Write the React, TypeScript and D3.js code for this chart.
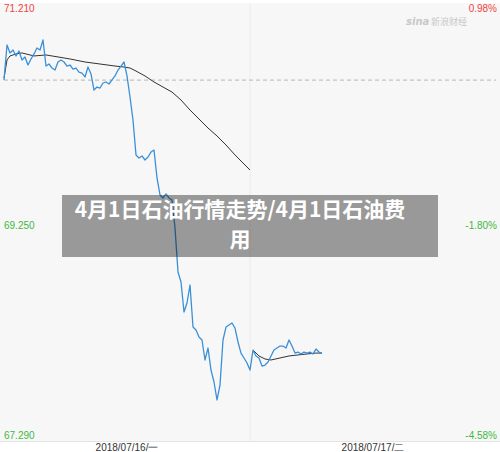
import React from 'react'
import * as d3 from 'd3'

// intraday prices, one sample per slot (slot 0..82 = day 1, 82..164 = day 2)
const priceValues = [
  70.521, 70.834, 70.763, 70.789, 70.736, 70.78, 70.7, 70.727, 70.655, 70.709,
  70.754, 70.807, 70.789, 70.879, 70.646, 70.664, 70.628, 70.61, 70.682, 70.7,
  70.682, 70.646, 70.655, 70.619, 70.628, 70.592, 70.583, 70.548, 70.637, 70.575,
  70.431, 70.458, 70.449, 70.494, 70.503, 70.485, 70.521, 70.557, 70.61, 70.646,
  70.682, 70.557, 70.369, 70.163, 69.85, 69.823, 69.841, 69.805, 69.832, 69.876,
  69.894, 69.644, 69.492, 69.465, 69.501, 69.465, 69.447, 69.196, 68.802, 68.713,
  68.444, 68.525, 68.686, 68.31, 68.283, 68.221, 68.194, 68.015, 68.122, 67.925,
  67.818, 67.657, 67.791, 68.194, 68.31, 68.328, 68.346, 68.301, 68.176, 68.077,
  68.033, 67.988, 67.925,
  68.104, 68.051, 68.033, 67.961, 67.97, 67.997, 68.051, 68.104, 68.122, 68.14,
  68.14, 68.122, 68.194, 68.14, 68.077, 68.086, 68.069, 68.086, 68.077, 68.086,
  68.069, 68.113, 68.086, 68.077,
]

// average price line, per trading day
const avgDay1Slots = [0, 1, 2, 4, 6, 10, 14, 18, 22, 27, 32, 37, 40, 42, 44, 47, 50, 53, 56, 59, 62, 65, 68, 71, 74, 77, 80, 82]
const avgDay1Values = [
  70.539, 70.7, 70.736, 70.754, 70.763, 70.736, 70.745, 70.727, 70.709, 70.682,
  70.664, 70.646, 70.637, 70.628, 70.601, 70.557, 70.503, 70.458, 70.413, 70.342,
  70.252, 70.172, 70.091, 70.02, 69.939, 69.85, 69.769, 69.715,
]
const avgDay2Slots = [83, 85, 87, 89, 92, 95, 98, 101, 104, 106]
const avgDay2Values = [68.104, 68.051, 68.024, 68.015, 68.033, 68.051, 68.06, 68.069, 68.077, 68.077]

const slotsPerDay = 82
const prevClose = 70.52
const yMax = 71.21
const yMin = 67.29
const dayLabels = ['2018/07/16/一', '2018/07/17/二']
const titleLines = ['4月1日石油行情走势/4月1日石油费', '用']

const W = 500
const H = 452
const plot = { left: 4, right: 496, top: 3, bottom: 441 }

const red = '#f0433f'
const green = '#3fb83f'

export default function App() {
  const xs = d3.scaleLinear().domain([0, slotsPerDay * 2]).range([plot.left, plot.right])
  const y = d3.scaleLinear().domain([yMin, yMax]).range([plot.bottom, plot.top])

  const line = d3
    .line<[number, number]>()
    .x((d) => xs(d[0]))
    .y((d) => y(d[1]))

  const pricePts = priceValues.map((v, i) => [i, v] as [number, number])
  const avg1 = avgDay1Slots.map((s, i) => [s, avgDay1Values[i]] as [number, number])
  const avg2 = avgDay2Slots.map((s, i) => [s, avgDay2Values[i]] as [number, number])

  const pct = (v: number) => ((v / prevClose - 1) * 100).toFixed(2) + '%'
  const mid = (yMax + yMin) / 2
  const labelFont = 'Arial, "Liberation Sans", sans-serif'

  return (
    <svg
      width={W}
      height={H}
      style={{ position: 'absolute', left: 0, top: 0, background: '#fff' }}
      fontFamily={labelFont}
    >
      <rect x={0} y={plot.top} width={W} height={plot.bottom - plot.top} fill="#f7f7f7" />
      <line x1={0} x2={W} y1={plot.bottom + 0.5} y2={plot.bottom + 0.5} stroke="#e4e4e4" />
      <line
        x1={xs(slotsPerDay)}
        x2={xs(slotsPerDay)}
        y1={plot.top}
        y2={plot.bottom}
        stroke="#ececec"
      />
      <line
        x1={plot.left}
        x2={plot.right}
        y1={y(prevClose)}
        y2={y(prevClose)}
        stroke="#b5b5b5"
        strokeDasharray="4,3"
      />

      {/* watermark */}
      <g fill="#c8c8c8">
        <text x={406} y={25} fontSize={10} fontStyle="italic" fontWeight="bold" fontFamily="DejaVu Sans">
          sina
        </text>
        <text x={431} y={25} fontSize={9} fontFamily='"Noto Sans CJK SC"'>
          新浪财经
        </text>
      </g>

      <path d={line(avg1) || ''} fill="none" stroke="#333" strokeWidth={1} />
      <path d={line(avg2) || ''} fill="none" stroke="#333" strokeWidth={1} />
      <path
        d={line(pricePts) || ''}
        fill="none"
        stroke="#3a90d8"
        strokeWidth={1.3}
        strokeLinejoin="round"
      />

      {/* axis labels */}
      <g fontSize={10}>
        <text x={plot.left} y={12} fill={red}>{yMax.toFixed(3)}</text>
        <text x={plot.right + 1} y={12} fill={red} textAnchor="end">{pct(yMax)}</text>
        <text x={plot.left} y={229} fill={green}>{mid.toFixed(3)}</text>
        <text x={plot.right + 1} y={229} fill={green} textAnchor="end">{pct(mid)}</text>
        <text x={plot.left} y={439} fill={green}>{yMin.toFixed(3)}</text>
        <text x={plot.right + 1} y={439} fill={green} textAnchor="end">{pct(yMin)}</text>
      </g>
      <g fontSize={10} fill="#333" textAnchor="middle">
        {dayLabels.map((d, i) => (
          <text key={d} x={xs(slotsPerDay * i + slotsPerDay / 2)} y={451}>
            {d}
          </text>
        ))}
      </g>

      {/* title overlay */}
      <rect x={62} y={195} width={376} height={62} fill="rgba(0,0,0,0.38)" />
      <g
        fill="#fff"
        fontSize={21}
        fontWeight="bold"
        fontFamily='"Noto Sans CJK SC", sans-serif'
        textAnchor="middle"
      >
        {titleLines.map((t, i) => (
          <text key={i} x={240} y={217 + i * 30}>
            {t}
          </text>
        ))}
      </g>
    </svg>
  )
}
